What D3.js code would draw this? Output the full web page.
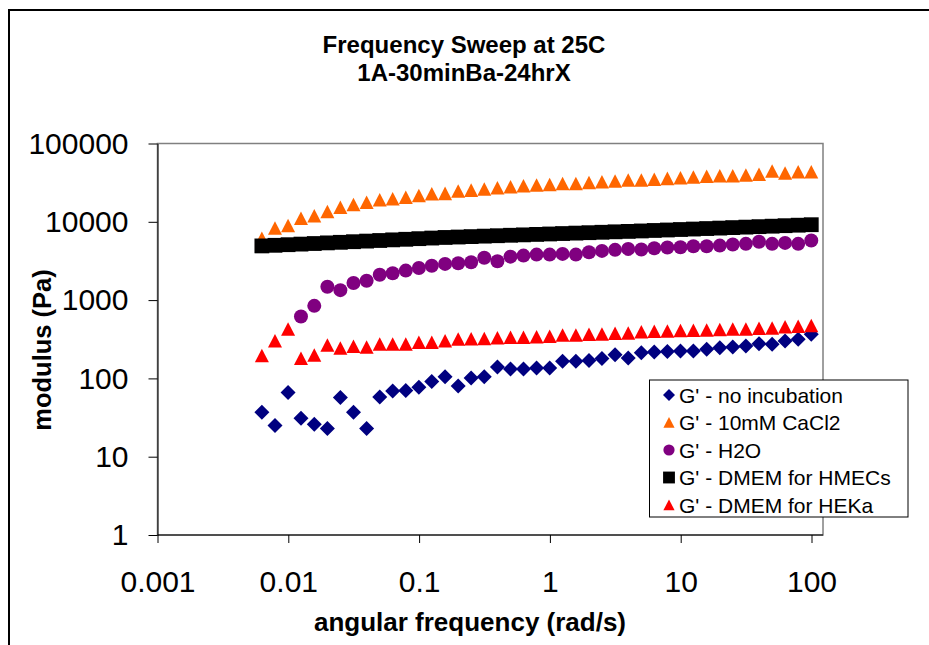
<!DOCTYPE html>
<html>
<head>
<meta charset="utf-8">
<script src="https://cdn.jsdelivr.net/npm/d3@7"></script>
<style>
  body { margin: 0; background: #fff; }
  text { font-family: Arial, "Liberation Sans", sans-serif; }
</style>
</head>
<body>
<div id="chart"></div>
<script>
//angular frequency, rad/s (same sweep for every sample)
var freq = [0.00628, 0.00791, 0.00996, 0.0125, 0.0158, 0.0199, 0.025, 0.0315, 0.0397, 0.05,
  0.0628, 0.0791, 0.0996, 0.125, 0.158, 0.199, 0.25, 0.315, 0.397, 0.5,
  0.628, 0.791, 0.996, 1.25, 1.58, 1.99, 2.5, 3.15, 3.97, 5,
  6.28, 7.91, 9.96, 12.5, 15.8, 19.9, 25, 31.5, 39.7, 50,
  62.8, 79.1, 99.6];

//G' values in Pa
var noIncubation = [37, 25, 66, 31, 26, 23, 57, 37, 23, 58,
  69, 70, 77, 91, 105, 80, 101, 105, 140, 132,
  132, 136, 136, 165, 165, 169, 179, 201, 182, 213,
  217, 220, 224, 224, 235, 247, 252, 259, 278, 273,
  301, 316, 366];
var cacl2 = [6100, 8300, 8900, 11000, 11900, 13400, 15200, 16500, 17700, 19000,
  19500, 20500, 21500, 22600, 22900, 24500, 25200, 26000, 27000, 27800,
  28700, 29200, 29800, 30700, 30700, 31600, 32300, 32900, 33900, 33900,
  34800, 35600, 36300, 37000, 37800, 38500, 38500, 39300, 40100, 44200,
  41600, 43400, 43400];
var h2o = [null, null, null, 618, 845, 1480, 1340, 1650, 1770, 2110,
  2200, 2380, 2570, 2750, 2900, 2960, 3040, 3480, 3130, 3590,
  3700, 3810, 3810, 3890, 3810, 4090, 4250, 4380, 4510, 4420,
  4600, 4690, 4730, 4880, 4880, 4970, 5120, 5230, 5550, 5230,
  5380, 5230, 5760];
var dmemHmec = [4920, 5010, 5100, 5190, 5280, 5380, 5470, 5570, 5670, 5770,
  5880, 5980, 6090, 6200, 6310, 6390, 6470, 6560, 6640, 6730,
  6810, 6900, 6990, 7080, 7170, 7260, 7350, 7450, 7540, 7640,
  7750, 7860, 7970, 8080, 8200, 8310, 8430, 8550, 8670, 8790,
  8920, 9050, 9180];
var dmemHeka = [195, 300, 425, 180, 197, 265, 243, 255, 250, 273,
  273, 273, 287, 287, 300, 316, 319, 322, 329, 332,
  332, 339, 342, 356, 356, 363, 366, 374, 378, 392,
  397, 401, 405, 409, 412, 417, 425, 425, 434, 437,
  455, 460, 469];

var seriesNames = ["G' - no incubation", "G' - 10mM CaCl2", "G' - H2O", "G' - DMEM for HMECs", "G' - DMEM for HEKa"];
var xTicks = [0.001, 0.01, 0.1, 1, 10, 100];
var xTickLabels = ["0.001", "0.01", "0.1", "1", "10", "100"];
var yTicks = [1, 10, 100, 1000, 10000, 100000];
var yTickLabels = ["1", "10", "100", "1000", "10000", "100000"];

var W = 929, H = 645;
//plot area box
var plotLeft = 157.5, plotTop = 143.5, plotBottom = 535, plotRight = 823;

//custom marker shapes, size = half width
var diamond = { draw: function(c, r) { c.moveTo(0, -r); c.lineTo(r, 0); c.lineTo(0, r); c.lineTo(-r, 0); c.closePath(); } };
var triangle = { draw: function(c, r) { c.moveTo(0, -r); c.lineTo(r, r * 0.93); c.lineTo(-r, r * 0.93); c.closePath(); } };
var square = { draw: function(c, r) { c.rect(-r, -r, 2 * r, 2 * r); } };
var circle = { draw: function(c, r) { c.moveTo(r, 0); c.arc(0, 0, r, 0, 2 * Math.PI); } };

var series = [
  { name: seriesNames[0], values: noIncubation, color: "#000080", shape: diamond, size: 7.5 },
  { name: seriesNames[1], values: cacl2, color: "#FF6600", shape: triangle, size: 7 },
  { name: seriesNames[2], values: h2o, color: "#800080", shape: circle, size: 7 },
  { name: seriesNames[3], values: dmemHmec, color: "#000000", shape: square, size: 7.4 },
  { name: seriesNames[4], values: dmemHeka, color: "#FF0000", shape: triangle, size: 7 }
];

var svg = d3.select("#chart").append("svg")
  .attr("width", W)
  .attr("height", H);

//chart area border (runs off the right and bottom of the picture)
svg.append("rect")
  .attr("x", 9).attr("y", 10)
  .attr("width", W + 20).attr("height", H + 20)
  .attr("fill", "#fff")
  .attr("stroke", "#000")
  .attr("stroke-width", 2);

var x = d3.scaleLog().domain([0.001, 100]).range([plotLeft, 811.5]);
var y = d3.scaleLog().domain([1, 100000]).range([plotBottom, plotTop]);

//plot area frame
svg.append("rect")
  .attr("x", plotLeft).attr("y", plotTop)
  .attr("width", plotRight - plotLeft).attr("height", plotBottom - plotTop)
  .attr("fill", "none")
  .attr("stroke", "#808080")
  .attr("stroke-width", 1.5);

//axes
var xAxis = d3.axisBottom(x).tickValues(xTicks)
  .tickFormat(function(d, i) { return xTickLabels[i]; })
  .tickSize(8).tickPadding(28).tickSizeOuter(0);
var yAxis = d3.axisLeft(y).tickValues(yTicks)
  .tickFormat(function(d, i) { return yTickLabels[i]; })
  .tickSize(9).tickPadding(20).tickSizeOuter(0);

var gx = svg.append("g")
  .attr("transform", "translate(0," + plotBottom + ")")
  .call(xAxis);
gx.select(".domain").attr("d", "M" + plotLeft + ",0H" + plotRight);
var gy = svg.append("g")
  .attr("transform", "translate(" + plotLeft + ",0)")
  .call(yAxis);

svg.selectAll(".tick text")
  .attr("font-family", "Arial, 'Liberation Sans', sans-serif")
  .attr("font-size", 30)
  .attr("fill", "#000");
svg.selectAll(".domain, .tick line").attr("stroke", "#000");

//markers, drawn in series order so later ones sit on top
series.forEach(function(s) {
  var pts = freq.map(function(f, i) { return { f: f, v: s.values[i] }; })
    .filter(function(d) { return d.v != null; });
  svg.append("g").selectAll("path")
    .data(pts)
    .enter().append("path")
    .attr("transform", function(d) { return "translate(" + x(d.f) + "," + y(d.v) + ")"; })
    .attr("d", d3.symbol().type(s.shape).size(s.size))
    .attr("fill", s.color);
});

//titles
var title = svg.append("text")
  .attr("x", 464).attr("y", 53)
  .attr("text-anchor", "middle")
  .attr("font-weight", "bold")
  .attr("font-size", 24);
title.append("tspan").attr("x", 464).text("Frequency Sweep at 25C");
title.append("tspan").attr("x", 464).attr("dy", 28).text("1A-30minBa-24hrX");

svg.append("text")
  .attr("x", 470).attr("y", 631)
  .attr("text-anchor", "middle")
  .attr("font-weight", "bold")
  .attr("font-size", 26)
  .text("angular frequency (rad/s)");

svg.append("text")
  .attr("transform", "translate(51,350) rotate(-90)")
  .attr("text-anchor", "middle")
  .attr("font-weight", "bold")
  .attr("font-size", 25.5)
  .text("modulus (Pa)");

//legend
var legend = svg.append("g").attr("transform", "translate(649.5,380)");
legend.append("rect")
  .attr("width", 258.5).attr("height", 137)
  .attr("fill", "#fff")
  .attr("stroke", "#000")
  .attr("stroke-width", 1);

series.forEach(function(s, i) {
  var row = legend.append("g").attr("transform", "translate(0," + (15 + i * 27.5) + ")");
  row.append("path")
    .attr("transform", "translate(19.5,0)")
    .attr("d", d3.symbol().type(s.shape).size(s.size * 0.8))
    .attr("fill", s.color);
  row.append("text")
    .attr("x", 29.5).attr("y", 7.5)
    .attr("font-size", 21)
    .text(s.name);
});
</script>
</body>
</html>
